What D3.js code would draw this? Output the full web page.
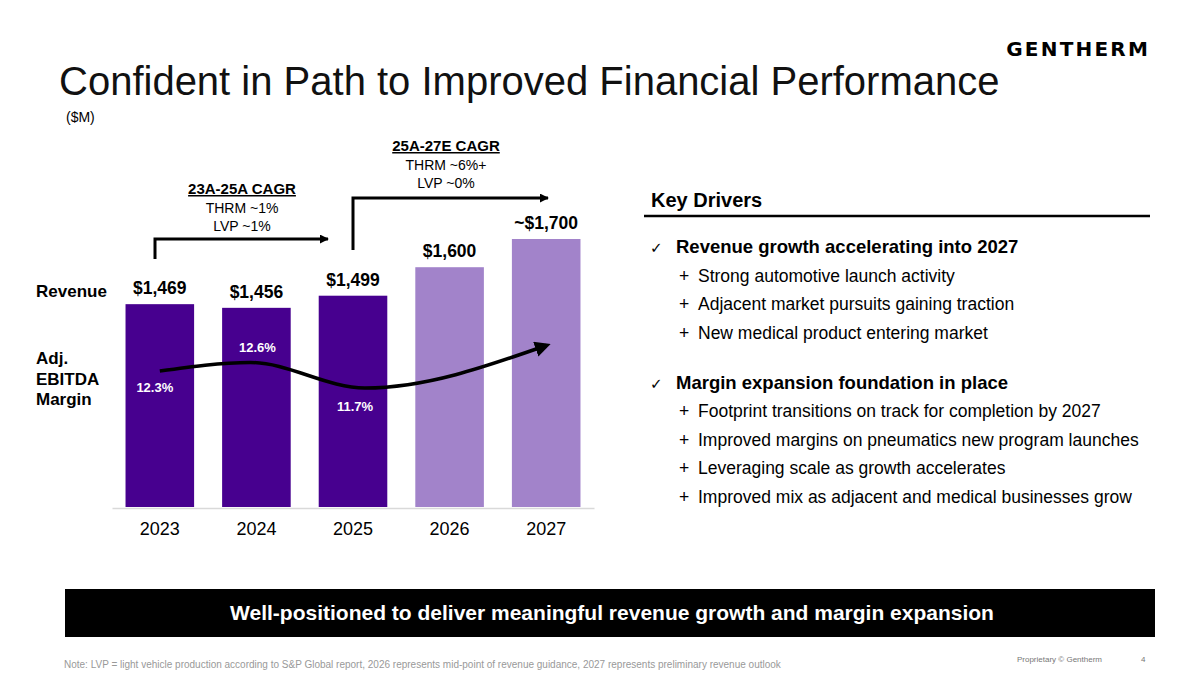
<!doctype html>
<html lang="en">
<head>
  <meta charset="utf-8">
  <title>Confident in Path to Improved Financial Performance</title>
  <style>
  body { margin: 0; background: #fff; }
  svg { display: block; font-family: "Liberation Sans", Arial, sans-serif; }
  .bold { font-weight: bold; }
  </style>
</head>
<body>
  <div id="chart"></div>
  <script src="https://cdn.jsdelivr.net/npm/d3@7/dist/d3.min.js"></script>
  <script>
var years = ["2023", "2024", "2025", "2026", "2027"];
var revenue = [1469, 1456, 1499, 1600, 1700];
var revenueLabels = ["$1,469", "$1,456", "$1,499", "$1,600", "~$1,700"];
var actual = [true, true, true, false, false];
var margins = [12.3, 12.6, 11.7];
var marginLabels = ["12.3%", "12.6%", "11.7%"];
var trendEnd = 13.2; // where the margin arrow points, 2027

var drivers = [
  { head: "Revenue growth accelerating into 2027",
    items: ["Strong automotive launch activity",
            "Adjacent market pursuits gaining traction",
            "New medical product entering market"] },
  { head: "Margin expansion foundation in place",
    items: ["Footprint transitions on track for completion by 2027",
            "Improved margins on pneumatics new program launches",
            "Leveraging scale as growth accelerates",
            "Improved mix as adjacent and medical businesses grow"] }
];

(function() {
  var width = 1200, height = 675;
  var dark = "#47008f", light = "#a283ca";

  var svg = d3.select("#chart").append("svg")
      .attr("width", width)
      .attr("height", height);

  // header
  svg.append("text").attr("x", 1150).attr("y", 56)
      .attr("text-anchor", "end")
      .style("font-family", "'DejaVu Sans', sans-serif")
      .style("font-weight", "bold").style("font-size", "20px")
      .style("letter-spacing", "2.2px")
      .text("GENTHERM");

  svg.append("text").attr("x", 59).attr("y", 95)
      .style("font-size", "40px").attr("fill", "#111")
      .text("Confident in Path to Improved Financial Performance");

  svg.append("text").attr("x", 66).attr("y", 122)
      .style("font-size", "14px")
      .text("($M)");

  // scales
  var x = d3.scaleBand().domain(years).range([112, 594]).paddingInner(0.29).paddingOuter(0.14);
  var y = d3.scaleLinear().domain([750, 1700]).range([507, 239]);
  var ym = d3.scaleLinear().domain([11.7, 12.3]).range([388, 371]);

  var g = svg.append("g");

  g.selectAll("rect.bar").data(years).enter().append("rect")
      .attr("class", "bar")
      .attr("x", function(d) { return x(d); })
      .attr("width", x.bandwidth())
      .attr("y", function(d, i) { return y(revenue[i]); })
      .attr("height", function(d, i) { return y.range()[0] - y(revenue[i]); })
      .attr("fill", function(d, i) { return actual[i] ? dark : light; });

  g.selectAll("text.val").data(years).enter().append("text")
      .attr("class", "val bold")
      .attr("x", function(d) { return x(d) + x.bandwidth() / 2; })
      .attr("y", function(d, i) { return y(revenue[i]) - 10; })
      .attr("text-anchor", "middle")
      .style("font-size", "17.5px")
      .text(function(d, i) { return revenueLabels[i]; });

  var xAxis = g.append("g")
      .attr("transform", "translate(0," + (y.range()[0] + 1) + ")")
      .call(d3.axisBottom(x).tickSize(0).tickPadding(14));
  xAxis.select(".domain").attr("stroke", "#d9d9d9").attr("stroke-width", 1.5);
  xAxis.selectAll("text").style("font-size", "18px").attr("fill", "#000")
      .style("font-family", "'Liberation Sans', Arial, sans-serif");

  // row labels
  svg.append("text").attr("class", "bold").attr("x", 36).attr("y", 297)
      .style("font-size", "17px").text("Revenue");
  svg.append("text").attr("class", "bold").attr("x", 36).attr("y", 364)
      .style("font-size", "17px")
      .selectAll("tspan").data(["Adj.", "EBITDA", "Margin"]).enter().append("tspan")
      .attr("x", 36).attr("dy", function(d, i) { return i ? 20.5 : 0; })
      .text(function(d) { return d; });

  // margin trend arrow
  svg.append("defs").append("marker")
      .attr("id", "tip").attr("viewBox", "0 0 10 10")
      .attr("refX", 7).attr("refY", 5)
      .attr("markerWidth", 4.5).attr("markerHeight", 4.5)
      .attr("orient", "auto")
      .append("path").attr("d", "M0,0L10,5L0,10z").attr("fill", "#000");

  var pts = margins.map(function(m, i) {
    return [x(years[i]) + x.bandwidth() / 2 + (i === 1 ? -6 : i === 2 ? 12 : 0), ym(m)];
  });
  pts.push([x(years[4]) + x.bandwidth() / 2, ym(trendEnd)]);

  svg.append("path")
      .attr("d", d3.line().curve(d3.curveMonotoneX)(pts))
      .attr("fill", "none").attr("stroke", "#000").attr("stroke-width", 3.5)
      .attr("marker-end", "url(#tip)");

  var labelShift = [[-5, 21], [1, -11], [2, 23]];
  svg.selectAll("text.margin").data(marginLabels).enter().append("text")
      .attr("class", "margin bold")
      .attr("x", function(d, i) { return x(years[i]) + x.bandwidth() / 2 + labelShift[i][0]; })
      .attr("y", function(d, i) { return ym(margins[i]) + labelShift[i][1]; })
      .attr("text-anchor", "middle").attr("fill", "#fff")
      .style("font-size", "13px")
      .text(function(d) { return d; });

  // CAGR annotations
  svg.append("defs").append("marker")
      .attr("id", "head").attr("viewBox", "0 0 10 10")
      .attr("refX", 9).attr("refY", 5)
      .attr("markerWidth", 3).attr("markerHeight", 3)
      .attr("orient", "auto")
      .append("path").attr("d", "M0,0L10,5L0,10z").attr("fill", "#000");

  function cagr(cx, ty, lines, x0, x1, yTop, yBottom) {
    var t = svg.append("text").attr("text-anchor", "middle").style("font-size", "14px");
    lines.forEach(function(l, i) {
      var s = t.append("tspan").attr("x", cx).attr("y", ty + i * 18.5).text(l);
      if (i === 0) s.attr("font-weight", "bold").attr("text-decoration", "underline")
          .style("font-size", "15px");
    });
    svg.append("path")
        .attr("d", "M" + x0 + "," + yBottom + "V" + yTop + "H" + x1)
        .attr("fill", "none").attr("stroke", "#000").attr("stroke-width", 3)
        .attr("marker-end", "url(#head)");
  }
  cagr(242, 194, ["23A-25A CAGR", "THRM ~1%", "LVP ~1%"], 155, 328, 239, 259);
  cagr(446, 151, ["25A-27E CAGR", "THRM ~6%+", "LVP ~0%"], 353, 548, 198, 250);

  // key drivers
  svg.append("text").attr("class", "bold").attr("x", 651).attr("y", 207)
      .style("font-size", "20px").text("Key Drivers");
  svg.append("line").attr("x1", 644).attr("x2", 1150).attr("y1", 216).attr("y2", 216)
      .attr("stroke", "#000").attr("stroke-width", 2.5);

  var rowY = 253;
  drivers.forEach(function(grp, gi) {
    if (gi) rowY += 50;
    svg.append("text").attr("x", 650).attr("y", rowY)
        .style("font-family", "'DejaVu Sans', sans-serif")
        .style("font-size", "15px").text("\u2713");
    svg.append("text").attr("class", "bold").attr("x", 676).attr("y", rowY)
        .style("font-size", "18.5px").text(grp.head);
    grp.items.forEach(function(it) {
      rowY += 28.5;
      svg.append("text").attr("x", 679).attr("y", rowY).style("font-size", "17.5px").text("+");
      svg.append("text").attr("x", 698).attr("y", rowY).style("font-size", "17.5px").text(it);
    });
  });

  // banner
  svg.append("rect").attr("x", 65).attr("y", 589).attr("width", 1090).attr("height", 48)
      .attr("fill", "#000");
  svg.append("text").attr("class", "bold").attr("x", 612).attr("y", 620)
      .attr("text-anchor", "middle").attr("fill", "#fff")
      .style("font-size", "21px")
      .text("Well-positioned to deliver meaningful revenue growth and margin expansion");

  // footer
  svg.append("text").attr("x", 64).attr("y", 668).attr("fill", "#999")
      .style("font-size", "10px")
      .text("Note: LVP = light vehicle production according to S&P Global report, 2026 represents mid-point of revenue guidance, 2027 represents preliminary revenue outlook");
  svg.append("text").attr("x", 1102).attr("y", 662).attr("text-anchor", "end")
      .attr("fill", "#777").style("font-size", "8px").text("Proprietary \u00a9 Gentherm");
  svg.append("text").attr("x", 1141).attr("y", 662).attr("fill", "#777")
      .style("font-size", "8px").text("4");
})();
  </script>
</body>
</html>
